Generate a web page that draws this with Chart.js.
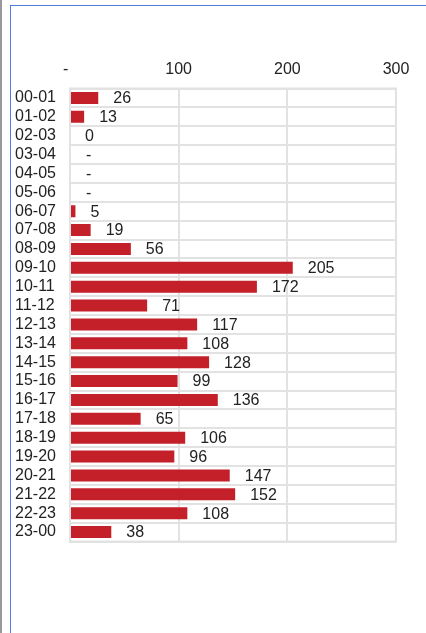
<!DOCTYPE html>
<html lang="en">
<head>
    <meta charset="UTF-8">
    <title>Hourly bar chart</title>
    <script src="https://cdn.jsdelivr.net/npm/chart.js"></script>
    <style>
        html, body {
            margin: 0;
            padding: 0;
            background: #fff;
            font-family: 'Liberation Sans', Arial, sans-serif;
        }
        .wrap {
            position: relative;
            width: 426px;
            height: 633px;
            overflow: hidden;
        }
        .edge {
            position: absolute;
            left: 0; top: 0;
            width: 2px; height: 633px;
            background: #9a9a9a;
        }
        .frame {
            position: absolute;
            left: 10px; top: 5px;
            width: 500px; height: 700px;
            border-left: 1px solid #4f7fd6;
            border-top: 1px solid #4f7fd6;
        }
        canvas {
            position: absolute;
            left: 0; top: 0;
        }
    </style>
</head>
<body>
    <div class="wrap">
        <div class="edge"></div>
        <div class="frame"></div>
        <canvas id="chart" width="426" height="633"></canvas>
    </div>

    <script>
        const hours = ["00-01", "01-02", "02-03", "03-04", "04-05", "05-06", "06-07", "07-08",
            "08-09", "09-10", "10-11", "11-12", "12-13", "13-14", "14-15", "15-16",
            "16-17", "17-18", "18-19", "19-20", "20-21", "21-22", "22-23", "23-00"];
        const counts = [26, 13, 0, null, null, null, 5, 19, 56, 205, 172, 71, 117, 108, 128, 99,
            136, 65, 106, 96, 147, 152, 108, 38];
        const xTicks = [0, 100, 200, 300];

        const textColor = "#222";
        const gridColor = "#e2e2e2";
        const fontFamily = "'Liberation Sans', Arial, sans-serif";

        // value labels next to each bar, "-" where there is no value
        const valueLabels = {
            id: "valueLabels",
            afterDatasetsDraw(chart) {
                const ctx = chart.ctx;
                const xs = chart.scales.x;
                const meta = chart.getDatasetMeta(0);
                ctx.save();
                ctx.font = "16px " + fontFamily;
                ctx.fillStyle = textColor;
                ctx.textBaseline = "middle";
                ctx.textAlign = "left";
                meta.data.forEach((bar, i) => {
                    const v = counts[i];
                    const x = xs.getPixelForValue(v == null ? 0 : v);
                    const txt = v == null ? "-" : String(v);
                    ctx.fillText(txt, x + (v == null ? 16 : 15), bar.y + 1);
                });
                ctx.restore();
            }
        };

        new Chart(document.getElementById("chart"), {
            type: "bar",
            data: {
                labels: hours,
                datasets: [{
                    data: counts,
                    backgroundColor: "#c4202a",
                    borderWidth: 0,
                    barPercentage: 0.64,
                    categoryPercentage: 1.0
                }]
            },
            options: {
                indexAxis: "y",
                responsive: false,
                animation: false,
                layout: { padding: { left: 15, right: 30, top: 0, bottom: 91.5 } },
                plugins: {
                    legend: { display: false },
                    tooltip: { enabled: false }
                },
                scales: {
                    x: {
                        position: "top",
                        min: 0,
                        max: 300,
                        afterFit: s => { s.height = 88.5; },
                        afterBuildTicks: s => { s.ticks = xTicks.map(v => ({ value: v })); },
                        border: { display: true, color: gridColor, width: 2 },
                        grid: { color: gridColor, lineWidth: 2, drawTicks: false },
                        ticks: {
                            color: textColor,
                            padding: 9,
                            font: { family: fontFamily, size: 16 },
                            callback: v => v === 0 ? "-  " : String(v)
                        }
                    },
                    y: {
                        afterFit: s => { s.width = 55; },
                        border: { display: true, color: gridColor, width: 2 },
                        grid: { color: gridColor, lineWidth: 2, drawTicks: false, offset: true },
                        ticks: {
                            color: textColor,
                            crossAlign: "far",
                            padding: 0,
                            autoSkip: false,
                            font: { family: fontFamily, size: 16 }
                        }
                    }
                }
            },
            plugins: [valueLabels, {
                id: "closeBox",
                afterDraw(chart) {
                    const a = chart.chartArea;
                    const ctx = chart.ctx;
                    ctx.save();
                    ctx.strokeStyle = gridColor;
                    ctx.lineWidth = 2;
                    ctx.strokeRect(a.left, a.top, a.right - a.left, a.bottom - a.top);
                    ctx.restore();
                }
            }]
        });
    </script>
</body>
</html>
